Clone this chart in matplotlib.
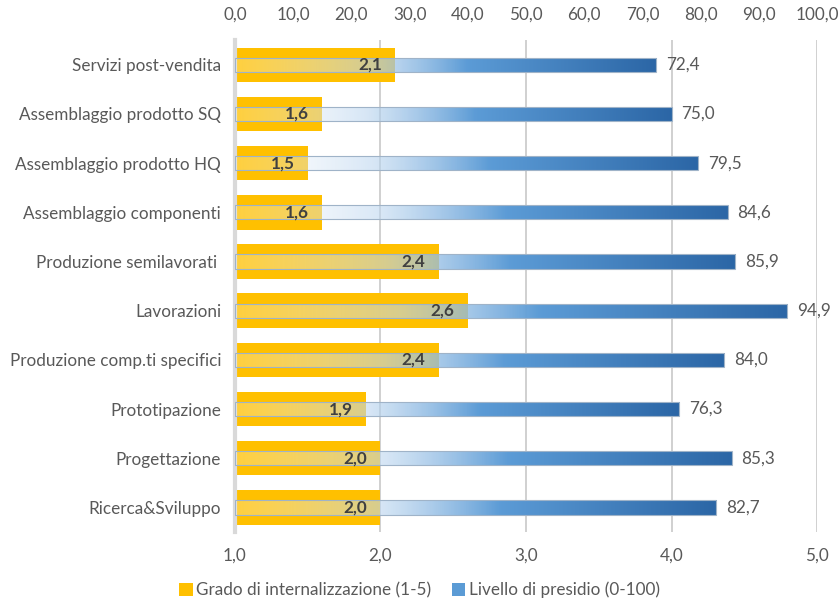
import numpy as np
import matplotlib
matplotlib.use('Agg')
import matplotlib.pyplot as plt
from matplotlib.colors import LinearSegmentedColormap
from matplotlib.patches import Patch

plt.rcParams['font.family'] = ['Lato', 'DejaVu Sans']

categories = ['Servizi post-vendita', 'Assemblaggio prodotto SQ', 'Assemblaggio prodotto HQ',
              'Assemblaggio componenti', 'Produzione semilavorati ', 'Lavorazioni',
              'Produzione comp.ti specifici', 'Prototipazione', 'Progettazione', 'Ricerca&Sviluppo']
grado = [2.1, 1.6, 1.5, 1.6, 2.4, 2.6, 2.4, 1.9, 2.0, 2.0]
presidio = [72.4, 75.0, 79.5, 84.6, 85.9, 94.9, 84.0, 76.3, 85.3, 82.7]
bottom_ticks = [1.0, 2.0, 3.0, 4.0, 5.0]
top_ticks = [0, 10, 20, 30, 40, 50, 60, 70, 80, 90, 100]

txt = '#595959'
yellow = '#FFC000'
fs = 12.3

# white-to-blue fill with a see-through start, like the office gradient
grad_cmap = LinearSegmentedColormap.from_list('presidio', [
    (0.0, (1.0, 1.0, 1.0, 0.25)),
    (0.3, (0.74, 0.84, 0.94, 0.6)),
    (0.55, (0.36, 0.61, 0.84, 1.0)),
    (1.0, (0.17, 0.40, 0.65, 1.0)),
])

fig = plt.figure(figsize=(8.39, 6.09), dpi=100)
ax = fig.add_axes([0.280, 0.1264, 0.694, 0.8076])
ax2 = ax.twiny()

y = np.arange(len(categories))

# yellow bars on bottom axis (1-5)
ax.barh(y, np.array(grado) - 1.0, left=1.0, height=0.7, color=yellow, zorder=2)
ax.set_xlim(1.0, 5.0)
ax.set_ylim(len(categories) - 0.5, -0.5)
ax.set_xticks(bottom_ticks)
ax.set_xticklabels([f'{t:.1f}'.replace('.', ',') for t in bottom_ticks])
ax.set_yticks(y)
ax.set_yticklabels(categories)
ax.tick_params(axis='both', length=0, colors=txt, labelsize=fs)
ax.tick_params(axis='x', pad=11)
ax.tick_params(axis='y', pad=10)
ax.grid(axis='x', color='#C8C8C8', lw=1.2, zorder=0)
ax.set_axisbelow(True)
for s in ['top', 'right', 'bottom']:
    ax.spines[s].set_visible(False)
ax.spines['left'].set_color('#D9D9D9')
ax.spines['left'].set_linewidth(3)

# gradient bars on top axis (0-100)
ax2.set_xlim(0, 100)
ax2.set_ylim(len(categories) - 0.5, -0.5)
grad = np.linspace(0, 1, 256).reshape(1, -1)
bh = 0.29
for yi, v in zip(y, presidio):
    bar = ax2.barh(yi, v, height=bh, facecolor='none', edgecolor='#9FB3C8', lw=0.8, zorder=4)[0]
    im = ax2.imshow(grad, cmap=grad_cmap, aspect='auto', extent=(0, v, yi + bh / 2, yi - bh / 2),
                    zorder=3, interpolation='bilinear')
    im.set_clip_path(bar)
    ax2.text(v + 1.7, yi, f'{v:.1f}'.replace('.', ','), ha='left', va='center',
             fontsize=fs, color=txt)
ax2.set_xlim(0, 100)
ax2.set_ylim(len(categories) - 0.5, -0.5)
ax2.set_xticks(top_ticks)
ax2.set_xticklabels([f'{t:.1f}'.replace('.', ',') for t in top_ticks])
ax2.tick_params(axis='x', length=0, colors=txt, labelsize=fs, pad=13)
for s in ax2.spines.values():
    s.set_visible(False)

# yellow bar values go on the top layer so the gradient does not hide them
for yi, g in zip(y, grado):
    ax2.text(g - 0.09, yi, f'{g:.1f}'.replace('.', ','), transform=ax.transData,
             ha='right', va='center', fontsize=fs, fontweight='bold', color='#404040', zorder=6)

handles = [Patch(facecolor=yellow, label='Grado di internalizzazione (1-5)'),
           Patch(facecolor='#5B9BD5', label='Livello di presidio (0-100)')]
fig.legend(handles=handles, loc='center', bbox_to_anchor=(0.5, 0.031), ncol=2, frameon=False,
           fontsize=fs, labelcolor=txt, handlelength=0.8, handleheight=0.8,
           handletextpad=0.2, columnspacing=1.2)

fig.savefig('out.png', dpi=100)
